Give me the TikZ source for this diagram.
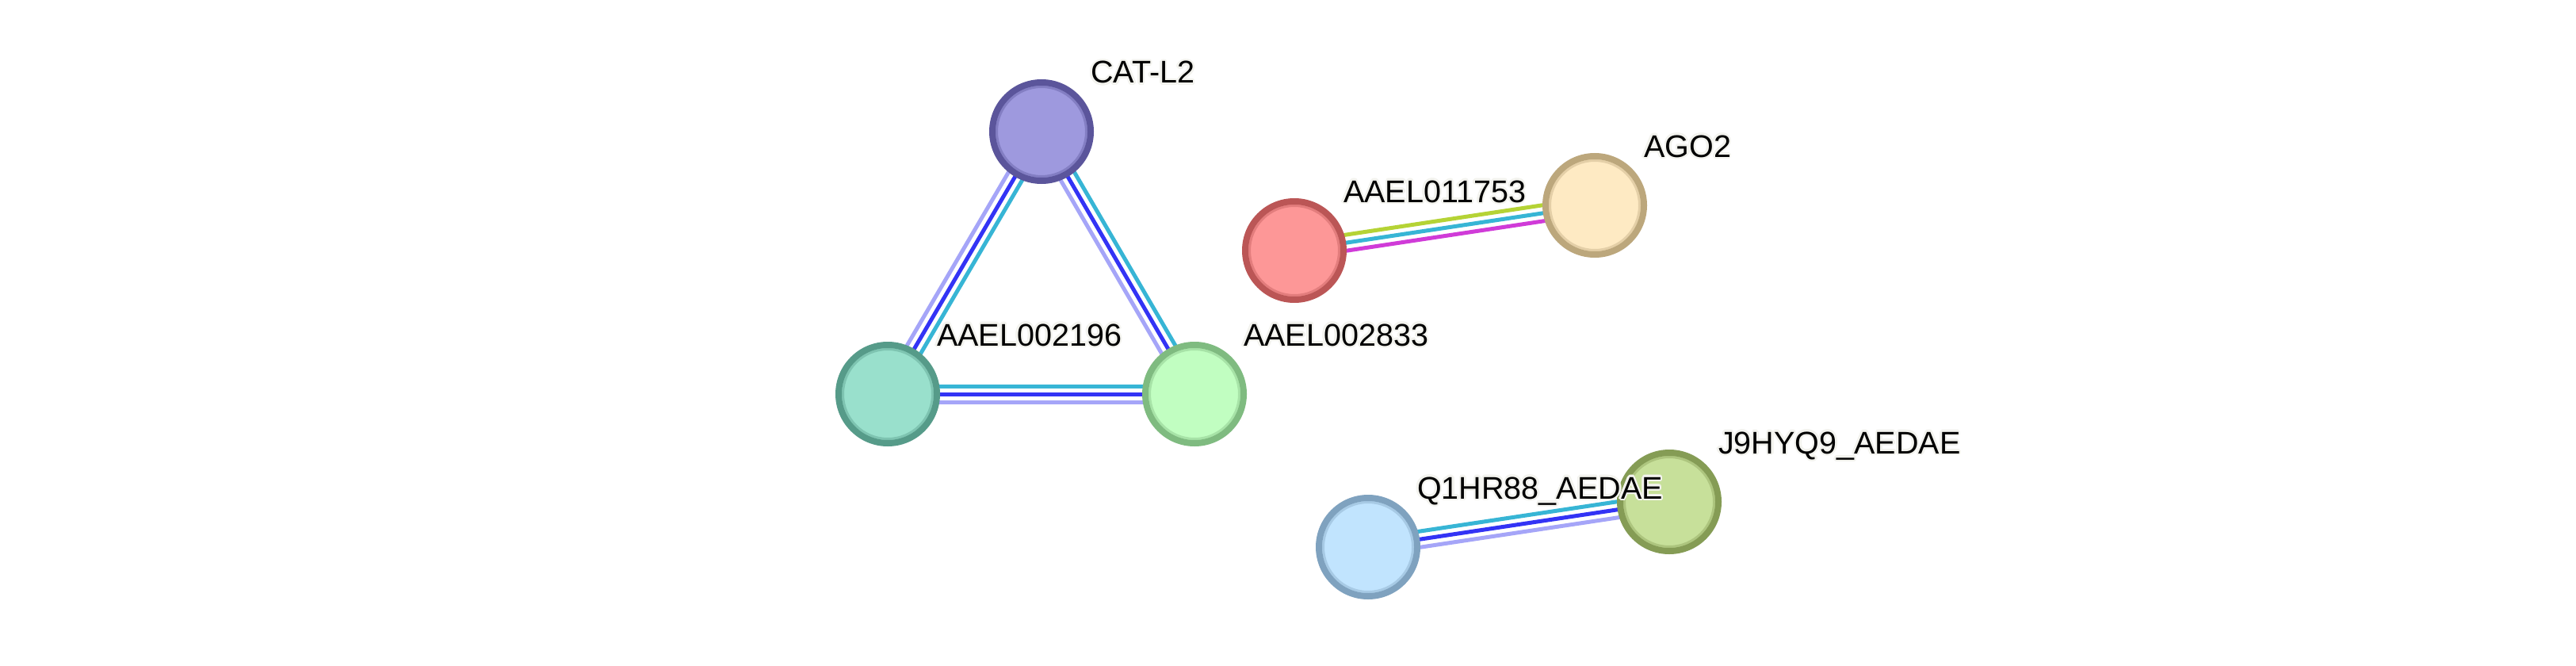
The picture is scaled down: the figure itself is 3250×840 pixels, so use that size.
\documentclass[tikz,border=0pt]{standalone}
\usepackage{fontspec}
\setmainfont{Liberation Sans}
\usepackage{contour}
\contourlength{2.5pt}
\usetikzlibrary{calc}
\pgfdeclarelayer{bg}
\pgfsetlayers{bg,main}
\definecolor{catF}{HTML}{9E99DE}\definecolor{catB}{HTML}{5B559B}
\definecolor{aaF}{HTML}{99E0CC}\definecolor{aaB}{HTML}{569B89}
\definecolor{abF}{HTML}{C1FEC1}\definecolor{abB}{HTML}{7FBB80}
\definecolor{acF}{HTML}{FD9797}\definecolor{acB}{HTML}{BB5656}
\definecolor{agF}{HTML}{FEEAC3}\definecolor{agB}{HTML}{BCA77C}
\definecolor{qF}{HTML}{C1E4FE}\definecolor{qB}{HTML}{7FA2BF}
\definecolor{jF}{HTML}{C7E09A}\definecolor{jB}{HTML}{859C55}
\definecolor{eCyan}{HTML}{37B5D5}
\definecolor{eBlue}{HTML}{3333F5}
\definecolor{eLav}{HTML}{A5A5F8}
\definecolor{eGreen}{HTML}{B5D335}
\definecolor{eMag}{HTML}{D03BD8}
\definecolor{halo}{HTML}{F3F3EE}
\tikzset{
  prot/.style 2 args={circle, minimum size=124pt, inner sep=0pt, line width=8pt,
    draw=#1, fill=#2,
    path picture={\draw[#1!40!#2, line width=3pt] (path picture bounding box.center) circle (56.5pt);}},
  lab/.style={anchor=base west, inner sep=0pt, font=\fontsize{39.5pt}{41pt}\selectfont},
  ln/.style={line width=5pt},
}
\newcommand\tripedge[5]{%
  \draw[ln,#3] ($(#1)!10pt!90:(#2)$) -- ($(#2)!10pt!-90:(#1)$);
  \draw[ln,#4] (#1.center) -- (#2.center);
  \draw[ln,#5] ($(#1)!10pt!-90:(#2)$) -- ($(#2)!10pt!90:(#1)$);
}
\begin{document}
\begin{tikzpicture}[x=1pt,y=-1pt]
\useasboundingbox (0,0) rectangle (3250,840);
% nodes
\node[prot={catB}{catF}] (cat) at (1314,166) {};
\node[prot={aaB}{aaF}] (a2196) at (1120,497) {};
\node[prot={abB}{abF}] (a2833) at (1507,497) {};
\node[prot={acB}{acF}] (a11753) at (1633,316) {};
\node[prot={agB}{agF}] (ago2) at (2012,259) {};
\node[prot={qB}{qF}] (q1hr) at (1726,690) {};
\node[prot={jB}{jF}] (j9) at (2106,633) {};
% edges
\begin{pgfonlayer}{bg}
\fill[white] (0,0) rectangle (3250,840);
\tripedge{cat}{a2196}{eCyan}{eBlue}{eLav}
\tripedge{cat}{a2833}{eCyan}{eBlue}{eLav}
\tripedge{a2196}{a2833}{eCyan}{eBlue}{eLav}
\tripedge{a11753}{ago2}{eGreen}{eCyan}{eMag}
\tripedge{q1hr}{j9}{eCyan}{eBlue}{eLav}
\end{pgfonlayer}
% labels
\node[lab] (lcat) at ($(cat)+(62,-61)$) {\contour{halo}{CAT-L2}};
\node[lab] (la2196) at ($(a2196)+(62,-61)$) {\contour{halo}{AAEL002196}};
\node[lab] (la2833) at ($(a2833)+(62,-61)$) {\contour{halo}{AAEL002833}};
\node[lab] (la11753) at ($(a11753)+(62,-61)$) {\contour{halo}{AAEL011753}};
\node[lab] (lago2) at ($(ago2)+(62,-61)$) {\contour{halo}{AGO2}};
\node[lab] (lq1hr) at ($(q1hr)+(62,-61)$) {\contour{halo}{Q1HR88\_AEDAE}};
\node[lab] (lj9) at ($(j9)+(62,-61)$) {\contour{halo}{J9HYQ9\_AEDAE}};
\end{tikzpicture}
\end{document}
